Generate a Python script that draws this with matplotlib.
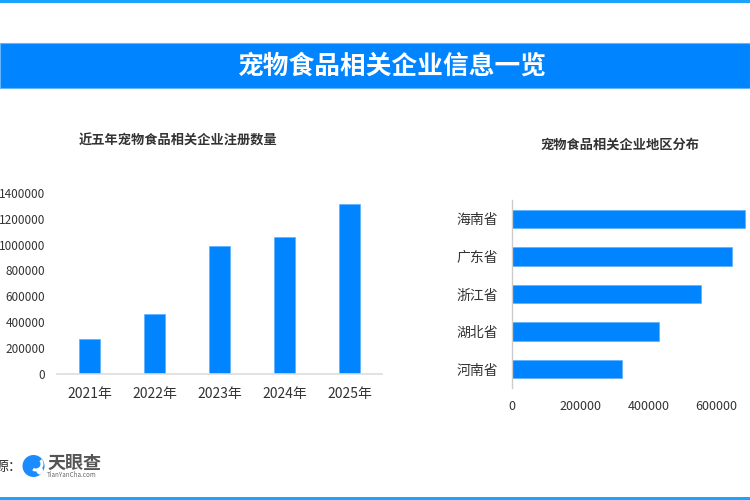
import matplotlib
matplotlib.use("Agg")
import matplotlib.pyplot as plt
from matplotlib.patches import Rectangle, Circle, Wedge

plt.rcParams['font.family'] = ['Noto Sans CJK SC', 'DejaVu Sans']

# ---- data ----
main_title = "宠物食品相关企业信息一览"
left_title = "近五年宠物食品相关企业注册数量"
years = ["2021年", "2022年", "2023年", "2024年", "2025年"]
registrations = [270000, 461000, 988000, 1055000, 1313000]
y_ticks_left = [0, 200000, 400000, 600000, 800000, 1000000, 1200000, 1400000]

right_title = "宠物食品相关企业地区分布"
provinces = ["海南省", "广东省", "浙江省", "湖北省", "河南省"]
prov_counts = [683000, 644000, 554000, 432000, 324000]
x_ticks_right = [0, 200000, 400000, 600000]

source_label = "源："

BLUE = "#0084ff"
LIGHT = "#1aa3ff"
TXT = "#333333"

fig = plt.figure(figsize=(7.5, 5), dpi=100)
fig.patch.set_facecolor("white")

# overlay in pixel coordinates
ov = fig.add_axes([0, 0, 1, 1])
ov.set_xlim(0, 750)
ov.set_ylim(500, 0)
ov.axis("off")
ov.add_patch(Rectangle((0, 0), 750, 2.8, color=LIGHT, lw=0))
ov.add_patch(Rectangle((0, 42.7), 750, 45, facecolor=BLUE, edgecolor="#66b5ff", lw=0.8))
ov.text(392, 66, main_title, color="white", fontsize=18.5, fontweight="bold",
        ha="center", va="center")
ov.add_patch(Rectangle((0, 496.5), 750, 3.5, color=LIGHT, lw=0))
ov.text(178.4, 140.5, left_title, color=TXT, fontsize=9.5, fontweight="bold",
        ha="center", va="center")
ov.text(620, 145, right_title, color=TXT, fontsize=9.5, fontweight="bold",
        ha="center", va="center")
ov.text(-6, 467, source_label, color=TXT, fontsize=10, ha="left", va="center")
# logo
ov.add_patch(Circle((33.5, 466), 11, color="#1a8cff", lw=0))
ov.add_patch(Wedge((36, 464), 7.5, -40, 120, width=3, color="white", lw=0))
ov.add_patch(Circle((40, 471), 3.5, color="white", lw=0))
ov.text(47, 463, "天眼查", color="#555555", fontsize=13, fontweight="bold",
        ha="left", va="center")
ov.text(47, 475, "TianYanCha.com", color="#666666", fontsize=4.5,
        ha="left", va="center")

# left bar chart
axl = fig.add_axes([57.2 / 750, 1 - 374 / 500, (382.2 - 57.2) / 750, (374 - 192.7) / 500])
axl.bar(range(len(years)), registrations, width=0.32, color=BLUE,
        edgecolor="#5fb0ff", linewidth=0.5)
axl.set_xlim(-0.5, len(years) - 0.5)
axl.set_ylim(0, 1400000)
axl.set_yticks(y_ticks_left)
axl.set_yticklabels([str(v) for v in y_ticks_left])
axl.set_xticks(range(len(years)))
axl.set_xticklabels(years)
for s in ["top", "right", "left"]:
    axl.spines[s].set_visible(False)
axl.spines["bottom"].set_color("#dddddd")
axl.spines["bottom"].set_linewidth(1.2)
axl.tick_params(axis="y", length=0, pad=8.5, labelsize=8.5, labelcolor=TXT)
axl.tick_params(axis="x", length=0, pad=9.5, labelsize=10, labelcolor=TXT)
axl.patch.set_alpha(0)

# right horizontal bar chart
x_left = 511.7
px_per = 273.2 / 800000
axr = fig.add_axes([x_left / 750, 1 - 388 / 500, (800000 * px_per) / 750, (388 - 200) / 500])
ypos = list(range(len(provinces)))
axr.barh(ypos, prov_counts, height=0.49, color=BLUE, edgecolor="#5fb0ff", linewidth=0.5)
axr.set_ylim(len(provinces) - 0.5, -0.5)
axr.set_xlim(0, 800000)
axr.set_yticks(ypos)
axr.set_yticklabels(provinces)
axr.set_xticks(x_ticks_right)
axr.set_xticklabels([str(v) for v in x_ticks_right])
for s in ["top", "right", "bottom"]:
    axr.spines[s].set_visible(False)
axr.spines["left"].set_color("#cccccc")
axr.spines["left"].set_linewidth(1.0)
axr.tick_params(axis="y", length=0, pad=10, labelsize=10, labelcolor=TXT)
axr.tick_params(axis="x", length=0, pad=9, labelsize=9, labelcolor=TXT)
axr.patch.set_alpha(0)

fig.savefig("out.png", dpi=100)
